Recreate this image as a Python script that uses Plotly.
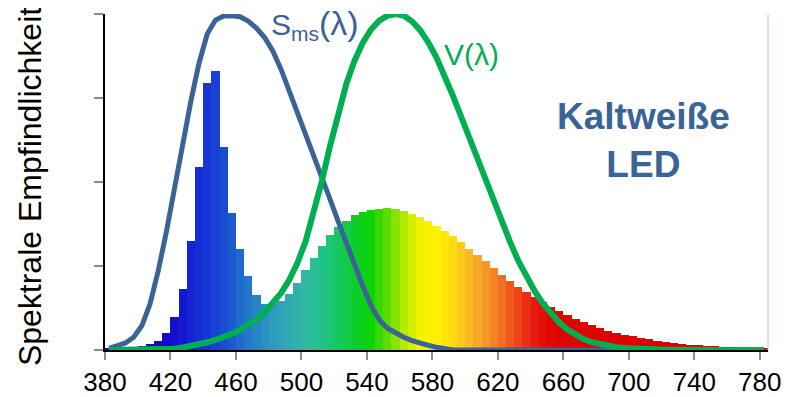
import plotly.graph_objects as go

# wavelength bins (nm), left edges of 5 nm bins
wavelength = list(range(380, 785, 5))

# relative spectral power of the cold-white LED (per 5 nm bin)
led_spectrum = [
    0.003, 0.004, 0.005, 0.008, 0.012, 0.019, 0.028, 0.050, 0.097, 0.181,
    0.323, 0.544, 0.794, 0.830, 0.605, 0.407, 0.300, 0.219, 0.163, 0.137,
    0.139, 0.147, 0.166, 0.198, 0.237, 0.274, 0.310, 0.342, 0.365, 0.385,
    0.401, 0.410, 0.417, 0.420, 0.422, 0.419, 0.413, 0.405, 0.395, 0.384,
    0.370, 0.354, 0.339, 0.320, 0.302, 0.283, 0.264, 0.243, 0.224, 0.206,
    0.188, 0.173, 0.157, 0.144, 0.127, 0.116, 0.103, 0.093, 0.082, 0.073,
    0.065, 0.058, 0.052, 0.046, 0.041, 0.037, 0.032, 0.028, 0.024, 0.021,
    0.018, 0.016, 0.014, 0.012, 0.011, 0.009, 0.008, 0.007, 0.006, 0.005,
    0.004,
]

# S_ms(lambda) sensitivity curve
s_ms = [
    0.005, 0.012, 0.021, 0.038, 0.072, 0.137, 0.235, 0.352, 0.485, 0.620,
    0.742, 0.855, 0.941, 0.982, 0.994, 0.995, 0.992, 0.979, 0.958, 0.930,
    0.890, 0.836, 0.773, 0.708, 0.645, 0.583, 0.515, 0.448, 0.382, 0.315,
    0.250, 0.190, 0.132, 0.090, 0.065, 0.050, 0.038, 0.028, 0.020, 0.014,
    0.008, 0.003, 0.0, 0.0, 0.0, 0.0, 0.0, 0.0, 0.0, 0.0,
    0.0, 0.0, 0.0, 0.0, 0.0, 0.0, 0.0, 0.0, 0.0, 0.0,
    0.0, 0.0, 0.0, 0.0, 0.0, 0.0, 0.0, 0.0, 0.0, 0.0,
    0.0, 0.0, 0.0, 0.0, 0.0, 0.0, 0.0, 0.0, 0.0, 0.0,
    0.0,
]

# V(lambda) photopic luminosity curve
v_lambda = [
    0.000039, 0.000064, 0.00012, 0.000217, 0.000396,
    0.00064, 0.00121, 0.00218, 0.004, 0.0073, 0.0116, 0.01684, 0.023, 0.0298, 0.038,
    0.048, 0.06, 0.0739, 0.09098, 0.1126, 0.13902, 0.1693, 0.20802, 0.2586, 0.323,
    0.4073, 0.503, 0.6082, 0.71, 0.7932, 0.862, 0.91485, 0.954, 0.9803, 0.99495,
    1.0, 0.995, 0.9786, 0.952, 0.9154, 0.87, 0.8163, 0.757, 0.6949, 0.631,
    0.5668, 0.503, 0.4412, 0.381, 0.321, 0.265, 0.217, 0.175, 0.1382, 0.107,
    0.0816, 0.061, 0.04458, 0.032, 0.0232, 0.017, 0.01192, 0.00821, 0.005723, 0.004102,
    0.002929, 0.002091, 0.001484, 0.001047, 0.00074, 0.00052, 0.000361, 0.000249, 0.000172, 0.00012,
    0.0000848, 0.00006, 0.0000424, 0.00003, 0.0000212, 0.000015,
]

x_ticks = [380, 420, 460, 500, 540, 580, 620, 660, 700, 740, 780]
y_ticks = [0, 0.25, 0.5, 0.75, 1.0]

bin_center = [w + 2.5 for w in wavelength]

# spectral colour scale (wavelength -> colour)
lo, hi = 380.0, 785.0
spec_anchors = [
    (380, "#2A0AC6"), (420, "#1509CE"), (440, "#1532D6"), (455, "#1A52D2"),
    (470, "#2580C8"), (485, "#2E9FBC"), (500, "#30B6A6"), (512, "#24C38A"),
    (522, "#18C863"), (532, "#0DCD30"), (542, "#0AD405"), (552, "#58DC00"),
    (562, "#B0E900"), (572, "#EEF300"), (582, "#FFF200"), (592, "#FDDC10"),
    (602, "#F9BC22"), (612, "#F69A28"), (622, "#F37222"), (632, "#EE4418"),
    (642, "#E61A0E"), (655, "#E00303"), (785, "#D80000"),
]
spec_scale = [[(w - lo) / (hi - lo), c] for w, c in spec_anchors]

FONT = "Arial, 'Liberation Sans', sans-serif"
BLUE = "#3A6497"
GREEN = "#00B050"

fig = go.Figure()
fig.add_trace(go.Bar(
    x=wavelength, y=led_spectrum, width=5, offset=0,
    marker=dict(color=bin_center, colorscale=spec_scale, cmin=lo, cmax=hi,
                line=dict(width=0)),
    showlegend=False, hoverinfo="skip",
))
fig.add_trace(go.Scatter(
    x=bin_center, y=s_ms, mode="lines",
    line=dict(color=BLUE, width=5), cliponaxis=False, showlegend=False,
))
fig.add_trace(go.Scatter(
    x=bin_center, y=v_lambda, mode="lines",
    line=dict(color=GREEN, width=6), cliponaxis=False, showlegend=False,
))

# the page body adds an 8 px offset, so the figure is 8 px smaller and shifted
fig.update_layout(
    width=782, height=389,
    margin=dict(l=97, r=22, t=6, b=47, autoexpand=False),
    paper_bgcolor="white", plot_bgcolor="white",
    bargap=0,
    font=dict(family=FONT, color="black"),
    xaxis=dict(
        range=[lo, hi], tickvals=x_ticks, ticktext=[str(t) for t in x_ticks],
        showgrid=False, zeroline=False, automargin=False,
        showline=True, linecolor="black", linewidth=1.5,
        ticks="outside", ticklen=8, tickwidth=1.5, tickcolor="#8C8C8C",
        tickfont=dict(size=26, color="black", family=FONT),
    ),
    yaxis=dict(
        range=[0, 1], tickvals=y_ticks, showticklabels=False,
        showgrid=False, zeroline=False, automargin=False,
        showline=True, linecolor="black", linewidth=1.5,
        ticks="outside", ticklen=9, tickwidth=1.5, tickcolor="#8C8C8C",
    ),
    shapes=[dict(type="line", xref="paper", yref="paper", x0=1, x1=1, y0=0, y1=1,
                 line=dict(color="#F2B4B4", width=1))],
    annotations=[
        dict(text="Spektrale Empfindlichkeit", xref="paper", yref="paper",
             x=-0.113, y=0.485, textangle=-90, showarrow=False,
             xanchor="center", yanchor="middle",
             font=dict(size=32, color="black", family=FONT)),
        dict(text="S<sub>ms</sub><span style='font-size:34px'>(λ)</span>",
             xref="x", yref="y", x=480, y=0.97, showarrow=False,
             xanchor="left", yanchor="middle",
             font=dict(size=30, color=BLUE, family=FONT)),
        dict(text="V(λ)", xref="x", yref="y", x=586, y=0.878, showarrow=False,
             xanchor="left", yanchor="middle",
             font=dict(size=30, color=GREEN, family=FONT)),
        dict(text="<b>Kaltweiße<br>LED</b>", xref="x", yref="y", x=709, y=0.625,
             showarrow=False, xanchor="center", yanchor="middle",
             font=dict(size=37, color=BLUE, family=FONT)),
    ],
)

fig.write_html("out.html")
